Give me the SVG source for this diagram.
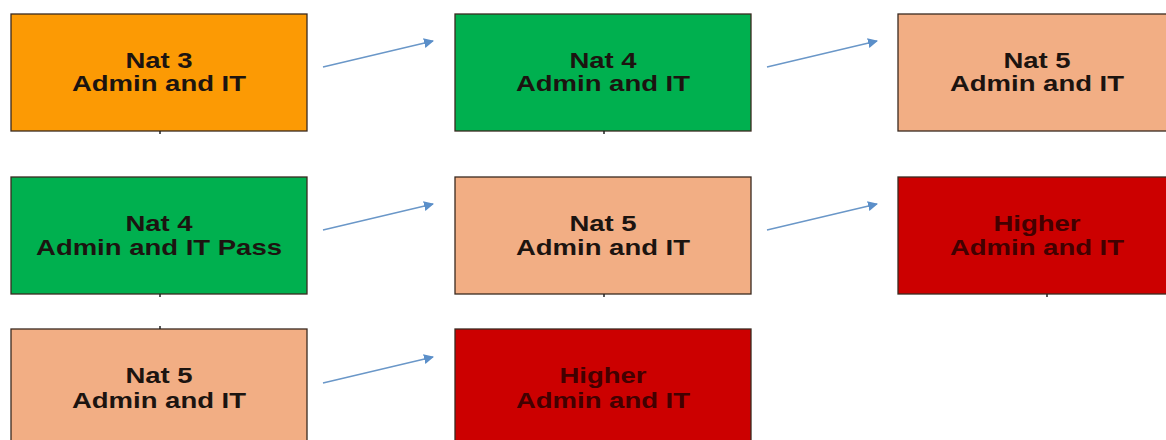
<svg xmlns="http://www.w3.org/2000/svg" width="1166" height="440" viewBox="0 0 1166 440">
<defs>
<style>
.box{stroke:#3a2a20;stroke-width:1.3}
.orange{fill:#fc9a04}
.green{fill:#00b04f}
.peach{fill:#f2ae84}
.red{fill:#cc0000}
.t{font-family:"Liberation Sans",Arial,sans-serif;font-weight:bold;font-size:22px;text-anchor:middle;fill:#1c1410}
.tr{fill:#420000}
.tick{stroke:#222;stroke-width:1.5}
.conn{stroke:#6a97c8;stroke-width:1.4;fill:none}
</style>
<marker id="ah" viewBox="0 0 10 10" refX="9" refY="5" markerWidth="10" markerHeight="10" markerUnits="userSpaceOnUse" orient="auto">
<path d="M0,0 L10,5 L0,10 z" fill="#5b8fc9"/>
</marker>
</defs>
<rect width="1166" height="440" fill="#ffffff"/>

<g id="n1">
<rect class="box orange" x="11" y="14" width="296" height="117"/>
<line class="tick" x1="160" y1="131" x2="160" y2="134"/>
<g transform="translate(159 0) scale(1.25 1)"><text class="t" x="0" y="68">Nat 3</text><text class="t" x="0" y="91">Admin and IT</text></g>
</g>
<g id="n2">
<rect class="box green" x="455" y="14" width="296" height="117"/>
<line class="tick" x1="604" y1="131" x2="604" y2="134"/>
<g transform="translate(603 0) scale(1.25 1)"><text class="t" x="0" y="68">Nat 4</text><text class="t" x="0" y="91">Admin and IT</text></g>
</g>
<g id="n3">
<rect class="box peach" x="898" y="14" width="296" height="117"/>
<g transform="translate(1037 0) scale(1.25 1)"><text class="t" x="0" y="68">Nat 5</text><text class="t" x="0" y="91">Admin and IT</text></g>
</g>

<g id="n4">
<rect class="box green" x="11" y="177" width="296" height="117"/>
<line class="tick" x1="160" y1="294" x2="160" y2="297"/>
<g transform="translate(159 0) scale(1.25 1)"><text class="t" x="0" y="231">Nat 4</text><text class="t" x="0" y="255">Admin and IT Pass</text></g>
</g>
<g id="n5">
<rect class="box peach" x="455" y="177" width="296" height="117"/>
<line class="tick" x1="604" y1="294" x2="604" y2="297"/>
<g transform="translate(603 0) scale(1.25 1)"><text class="t" x="0" y="231">Nat 5</text><text class="t" x="0" y="255">Admin and IT</text></g>
</g>
<g id="n6">
<rect class="box red" x="898" y="177" width="296" height="117"/>
<line class="tick" x1="1047" y1="294" x2="1047" y2="297"/>
<g transform="translate(1037 0) scale(1.25 1)"><text class="t tr" x="0" y="231">Higher</text><text class="t tr" x="0" y="255">Admin and IT</text></g>
</g>

<g id="n7">
<rect class="box peach" x="11" y="329" width="296" height="117"/>
<line class="tick" x1="160" y1="326" x2="160" y2="329"/>
<g transform="translate(159 0) scale(1.25 1)"><text class="t" x="0" y="383">Nat 5</text><text class="t" x="0" y="408">Admin and IT</text></g>
</g>
<g id="n8">
<rect class="box red" x="455" y="329" width="296" height="117"/>
<g transform="translate(603 0) scale(1.25 1)"><text class="t tr" x="0" y="383">Higher</text><text class="t tr" x="0" y="408">Admin and IT</text></g>
</g>

<g id="connectors">
<line class="conn" x1="323" y1="67" x2="433" y2="41" marker-end="url(#ah)"/>
<line class="conn" x1="767" y1="67" x2="877" y2="41" marker-end="url(#ah)"/>
<line class="conn" x1="323" y1="230" x2="433" y2="204" marker-end="url(#ah)"/>
<line class="conn" x1="767" y1="230" x2="877" y2="204" marker-end="url(#ah)"/>
<line class="conn" x1="323" y1="383" x2="433" y2="357" marker-end="url(#ah)"/>
</g>
</svg>
